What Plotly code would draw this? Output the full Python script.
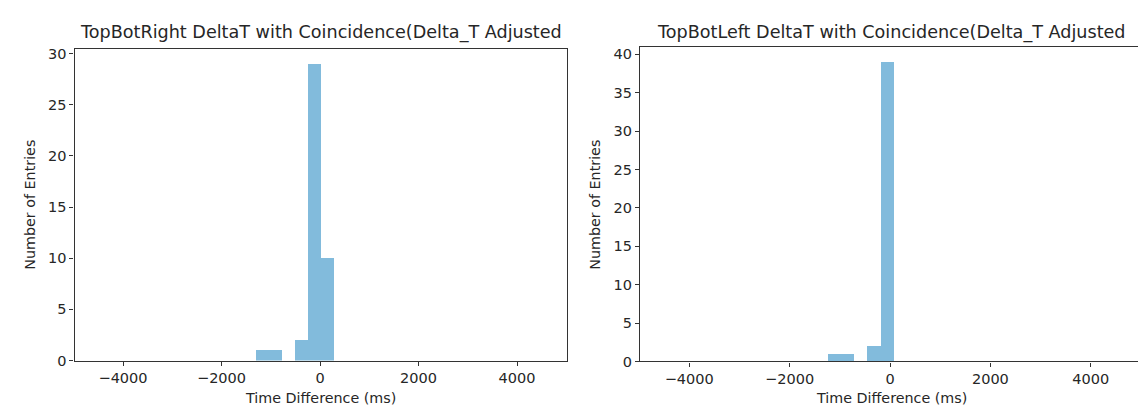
import plotly.graph_objects as go

# ---- data ----
right_bin_edges = [-1310, -1045, -780, -515, -250, 15]   # TopBotRight bin left edges (ms)
right_bin_width = 265
right_counts = [1, 1, 0, 2, 29, 10]

left_bin_edges = [-1236, -974, -712, -450, -188]          # TopBotLeft bin left edges (ms)
left_bin_width = 262
left_counts = [1, 1, 0, 2, 39]

x_ticks = [-4000, -2000, 0, 2000, 4000]
x_tick_labels = ["\u22124000", "\u22122000", "0", "2000", "4000"]
titles = ["TopBotRight DeltaT with Coincidence(Delta_T Adjusted",
          "TopBotLeft DeltaT with Coincidence(Delta_T Adjusted"]
x_label = "Time Difference (ms)"
y_label = "Number of Entries"

BAR = "rgb(130,187,220)"
FONT = "DejaVu Sans"
TXT = "#262626"
TICK_SIZE = 14.5
LABEL_SIZE = 14.3
TITLE_SIZE = 17.6

fig = go.Figure()
fig.add_trace(go.Bar(x=right_bin_edges, y=right_counts, width=right_bin_width, offset=0,
                     marker=dict(color=BAR, line=dict(width=0)), xaxis="x", yaxis="y",
                     showlegend=False))
fig.add_trace(go.Bar(x=left_bin_edges, y=left_counts, width=left_bin_width, offset=0,
                     marker=dict(color=BAR, line=dict(width=0)), xaxis="x2", yaxis="y2",
                     showlegend=False))

W, H = 1146, 416
ax_common = dict(showline=True, mirror=True, linecolor="#333", linewidth=1.2,
                 ticks="outside", ticklen=4, tickcolor="#333", showgrid=False, zeroline=False,
                 tickfont=dict(family=FONT, size=TICK_SIZE, color=TXT))

L1, R1, T1, B1 = 66.5, 559, 39, 359
L2, R2, T2, B2 = 632, 1134, 37, 360

fig.update_layout(
    width=W, height=H, margin=dict(l=0, r=0, t=0, b=0),
    paper_bgcolor="white", plot_bgcolor="white", bargap=0,
    xaxis=dict(domain=[L1 / W, R1 / W], range=[-4985, 5015], anchor="y",
               tickvals=x_ticks, ticktext=x_tick_labels, **ax_common),
    yaxis=dict(domain=[(H - B1) / H, (H - T1) / H], range=[0, 30.45], anchor="x",
               tickvals=[0, 5, 10, 15, 20, 25, 30], **ax_common),
    xaxis2=dict(domain=[L2 / W, R2 / W], range=[-4980, 5020], anchor="y2",
                tickvals=x_ticks, ticktext=x_tick_labels, **ax_common),
    yaxis2=dict(domain=[(H - B2) / H, (H - T2) / H], range=[0, 40.95], anchor="x2",
                tickvals=[0, 5, 10, 15, 20, 25, 30, 35, 40], **ax_common),
)

panels = [(L1, R1, 22, 397, 22), (L2, R2, 22, 398, 587)]
for i, (l, r, ty, xly, ylx) in enumerate(panels):
    fig.add_annotation(text=titles[i], x=(l + r) / 2 / W, y=(H - ty) / H, xref="paper", yref="paper",
                       xanchor="center", yanchor="middle", showarrow=False,
                       font=dict(family=FONT, size=TITLE_SIZE, color=TXT))
    fig.add_annotation(text=x_label, x=(l + r) / 2 / W, y=(H - xly) / H, xref="paper", yref="paper",
                       xanchor="center", yanchor="middle", showarrow=False,
                       font=dict(family=FONT, size=LABEL_SIZE, color=TXT))
    fig.add_annotation(text=y_label, x=ylx / W, y=(H - (T1 + B1) / 2) / H, xref="paper", yref="paper",
                       xanchor="center", yanchor="middle", showarrow=False, textangle=-90,
                       font=dict(family=FONT, size=LABEL_SIZE, color=TXT))

fig.write_html("out.html")
